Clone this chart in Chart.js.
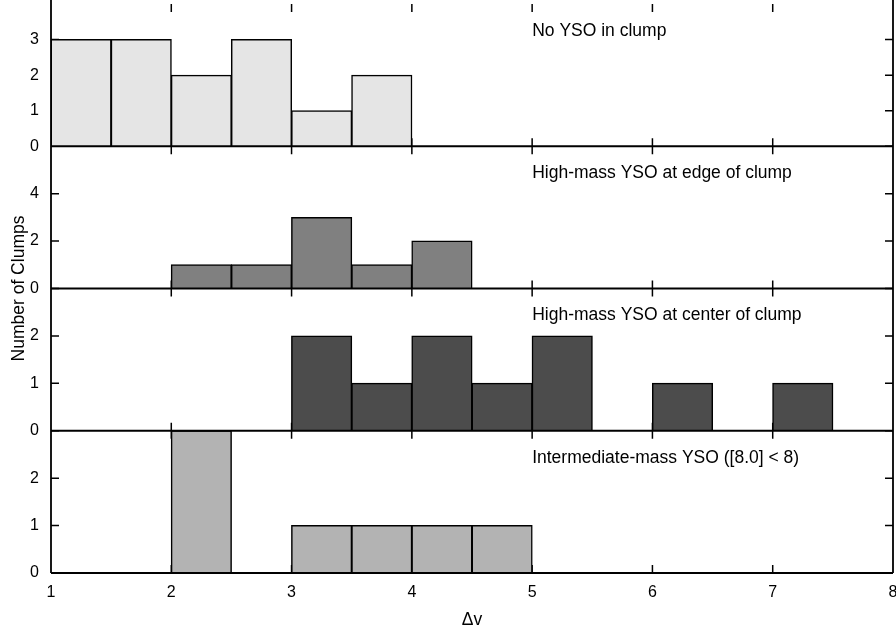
<!DOCTYPE html>
<html>
<head>
<meta charset="utf-8">
<script src="https://cdn.jsdelivr.net/npm/chart.js@4"></script>
<style>
html,body{margin:0;padding:0;background:#fff;}
#wrap{width:896px;height:628px;position:relative;}
</style>
</head>
<body>
<div id="wrap"><canvas id="hist"></canvas></div>
<script>
// Δv histogram bins, width 0.5 from 1 to 8 (bin centres)
const binCenters=[1.25,1.75,2.25,2.75,3.25,3.75,4.25,4.75,5.25,5.75,6.25,6.75,7.25,7.75];

const noYso=[3,3,2,3,1,2,0,0,0,0,0,0,0,0];
const edgeYso=[0,0,1,1,3,1,2,0,0,0,0,0,0,0];
const centerYso=[0,0,0,0,2,1,2,1,2,0,1,0,1,0];
const interYso=[0,0,3,0,1,1,1,1,0,0,0,0,0,0];

const panelLabels=["No YSO in clump","High-mass YSO at edge of clump","High-mass YSO at center of clump","Intermediate-mass YSO ([8.0] < 8)"];
const panelMax=[4,6,3,3];
const panelTicks=[[0,1,2,3],[0,2,4],[0,1,2],[0,1,2]];
const xTicks=[1,2,3,4,5,6,7,8];

const panelData=[noYso,edgeYso,centerYso,interYso];
const panelColors=["#e5e5e5","#808080","#4c4c4c","#b3b3b3"];
const panelIds=["p1","p2","p3","p4"];

const FONT="'Liberation Sans', Arial, Helvetica, sans-serif";

function toPoints(arr){
    return binCenters.map((x,i)=>({x:x,y:arr[i]}));
}

const datasets=panelData.map((arr,i)=>({
    label:panelLabels[i],
    data:toPoints(arr),
    yAxisID:panelIds[i],
    backgroundColor:panelColors[i],
    borderColor:"#000",
    borderWidth:1.5,
    inflateAmount:0.5,
    grouped:false,
    barPercentage:1,
    categoryPercentage:1
}));

function panelScale(i){
    return {
        type:"linear",
        position:"left",
        stack:"panels",
        stackWeight:1,
        weight:4-i,
        min:0,
        max:panelMax[i],
        grid:{display:false,drawTicks:false},
        border:{display:false},
        ticks:{font:{family:FONT,size:16},color:"#000",padding:12},
        afterBuildTicks:function(s){s.ticks=panelTicks[i].map(v=>({value:v}));},
        afterFit:function(s){
            s.width=51;
            s.paddingTop=0;
            s.paddingBottom=0;
        }
    };
}

const scales={
    x:{
        type:"linear",
        offset:false,
        min:1,
        max:8,
        grid:{display:false,drawTicks:false},
        border:{display:false},
        ticks:{font:{family:FONT,size:16},color:"#000",padding:10},
        afterBuildTicks:function(s){s.ticks=xTicks.map(v=>({value:v}));},
        afterFit:function(s){
            s.height=55;
            s.paddingLeft=0;
            s.paddingRight=0;
        }
    }
};
panelIds.forEach((id,i)=>{scales[id]=panelScale(i);});

// frame, inward ticks and panel captions
const framePlugin={
    id:"frame",
    beforeDatasetsDraw(chart){
        const ctx=chart.ctx;
        const area=chart.chartArea;
        const xs=chart.scales.x;
        ctx.save();
        ctx.strokeStyle="#000";
        ctx.lineWidth=1.5;
        ctx.beginPath();
        panelIds.forEach((id,i)=>{
            const ys=chart.scales[id];
            panelTicks[i].forEach(v=>{
                const py=ys.getPixelForValue(v);
                ctx.moveTo(area.left,py);ctx.lineTo(area.left+8,py);
                ctx.moveTo(area.right,py);ctx.lineTo(area.right-8,py);
            });
            xTicks.slice(1,-1).forEach(v=>{
                const px=xs.getPixelForValue(v);
                ctx.moveTo(px,ys.bottom);ctx.lineTo(px,ys.bottom-8);
                ctx.moveTo(px,ys.top);ctx.lineTo(px,ys.top+8);
            });
        });
        ctx.stroke();
        ctx.restore();
    },
    afterDatasetsDraw(chart){
        const ctx=chart.ctx;
        const area=chart.chartArea;
        ctx.save();
        ctx.strokeStyle="#000";
        ctx.lineWidth=1.8;
        ctx.beginPath();
        ctx.moveTo(area.left,area.top-6);ctx.lineTo(area.left,area.bottom);
        ctx.moveTo(area.right,area.top-6);ctx.lineTo(area.right,area.bottom);
        panelIds.forEach(id=>{
            const py=chart.scales[id].getPixelForValue(0);
            ctx.moveTo(area.left,py);ctx.lineTo(area.right,py);
        });
        ctx.stroke();
        ctx.restore();
    },
    afterDraw(chart){
        const ctx=chart.ctx;
        const area=chart.chartArea;
        const xs=chart.scales.x;
        ctx.save();
        ctx.fillStyle="#000";
        ctx.font="17.5px "+FONT;
        ctx.textAlign="left";
        ctx.textBaseline="middle";
        panelIds.forEach((id,i)=>{
            const ys=chart.scales[id];
            ctx.fillText(panelLabels[i],xs.getPixelForValue(5),ys.getPixelForDecimal(0.81));
        });
        ctx.textAlign="center";
        ctx.textBaseline="alphabetic";
        ctx.fillText("Δv",(area.left+area.right)/2,625);
        ctx.translate(24,(area.top+area.bottom)/2);
        ctx.rotate(-Math.PI/2);
        ctx.fillText("Number of Clumps",0,0);
        ctx.restore();
    }
};

new Chart(document.getElementById("hist"),{
    type:"bar",
    data:{datasets:datasets},
    options:{
        responsive:true,
        maintainAspectRatio:false,
        animation:false,
        layout:{padding:{top:4,right:3,left:0,bottom:0}},
        plugins:{legend:{display:false},tooltip:{enabled:false}},
        scales:scales
    },
    plugins:[framePlugin]
});
</script>
</body>
</html>
